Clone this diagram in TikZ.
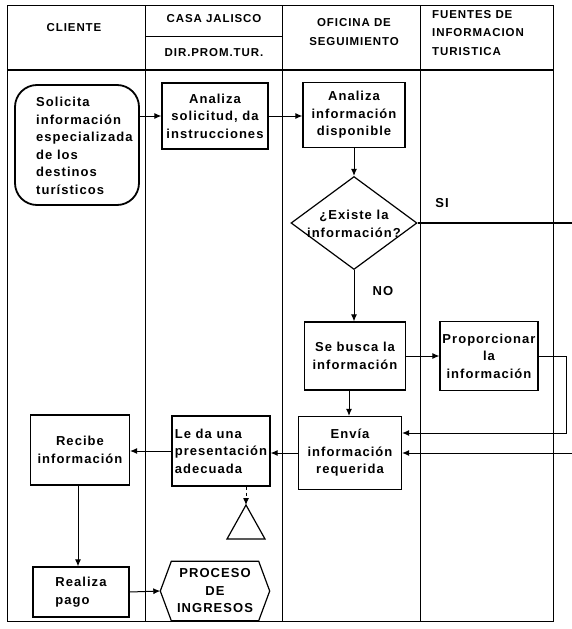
\documentclass[tikz,border=0pt]{standalone}
\usepackage{fontspec}
\setmainfont{Liberation Sans}
\newfontfamily\lblfont[LetterSpace=8]{Liberation Sans}
\usetikzlibrary{shapes.geometric, arrows.meta}

\tikzset{
	frame/.style={line width=1pt},
	box/.style={draw, line width=1.2pt, inner sep=2pt, align=center,
		font=\lblfont\bfseries\fontsize{13}{17.5}\selectfont},
	txt/.style={inner sep=0pt, align=center,
		font=\lblfont\bfseries\fontsize{13}{17.5}\selectfont},
	head/.style={inner sep=0pt, align=center,
		font=\lblfont\bfseries\fontsize{11.5}{18.5}\selectfont},
	arr/.style={-{Latex[length=7pt,width=6pt]}, line width=1pt}
}

\begin{document}
\begin{tikzpicture}[x=1pt,y=-1pt]
	\useasboundingbox (0,0) rectangle (572,629);

	% lanes
	\draw[frame] (7,5) rectangle (553,621);
	\draw[line width=1.4pt] (7,70) -- (553,70);
	\draw[frame] (145,5) -- (145,621);
	\draw[frame] (282,5) -- (282,621);
	\draw[frame] (420,5) -- (420,621);
	\draw[frame] (145,36) -- (282,36);

	\node[head] (hcliente) at (74,28) {CLIENTE};
	\node[head] (hcasa) at (214,19) {CASA JALISCO};
	\node[head] (hdir) at (214,53) {DIR.PROM.TUR.};
	\node[head] (hoficina) at (354,32) {OFICINA DE\\SEGUIMIENTO};
	\node[head, align=left, anchor=west] (hfuentes) at (432,33) {FUENTES DE\\INFORMACION\\TURISTICA};

	% cliente
	\node[draw, rounded corners=22pt, line width=1.8pt,
		minimum width=124pt, minimum height=120pt] (solicita) at (77,145) {};
	\node[txt, align=left, anchor=west] (solicitatxt) at (36,146)
		{Solicita\\información\\especializada\\de los\\destinos\\turísticos};
	\node[box, minimum width=99pt, minimum height=70pt] (recibe) at (80,450) {Recibe\\información};
	\node[box, align=left, minimum width=96pt, minimum height=50pt] (realiza) at (81,592) {Realiza\\pago};

	% casa jalisco
	\node[box, minimum width=106pt, minimum height=66pt] (solic) at (215,116) {Analiza\\solicitud, da\\instrucciones};
	\node[box, align=left, minimum width=98pt, minimum height=70pt] (leda) at (221,451) {Le da una\\presentación\\adecuada};
	\node[txt, minimum width=109pt, minimum height=59pt] (ingresos) at (215,591) {PROCESO\\DE\\INGRESOS};
	\draw[line width=1.2pt] (ingresos.west) -- ([xshift=11pt]ingresos.north west)
		-- ([xshift=-11pt]ingresos.north east) -- (ingresos.east)
		-- ([xshift=-11pt]ingresos.south east) -- ([xshift=11pt]ingresos.south west) -- cycle;
	\coordinate (tri) at (246,505);
	\draw[line width=1.2pt] (tri) -- (227,539) -- (265,539) -- cycle;

	% oficina
	\node[box, minimum width=102pt, minimum height=65pt] (dispon) at (354,115) {Analiza\\información\\disponible};
	\node[diamond, draw, line width=1.2pt, inner sep=0pt,
		minimum width=126pt, minimum height=93pt] (existe) at (354,223) {};
	\node[txt] (existetxt) at (354,224) {¿Existe la\\información?};
	\node[box, minimum width=101pt, minimum height=68pt] (busca) at (355,356) {Se busca la\\información};
	\node[box, minimum width=103pt, minimum height=73pt] (envia) at (350,453) {Envía\\información\\requerida};

	% fuentes
	\node[box, minimum width=98pt, minimum height=69pt] (proporc) at (489,356) {Proporcionar\\la\\información};
	\coordinate (siend) at (572,223);
	\coordinate (fuente) at (572,453);

	\node[txt] (si) at (442,203) {SI};
	\node[txt] (no) at (383,291) {NO};

	% flujo
	\draw[arr] (solic.west -| solicita.east) -- (solic.west);
	\draw[arr] (solic.east) -- (dispon.west |- solic.east);
	\draw[arr] (dispon.south) -- (existe.north);
	\draw[line width=1.2pt] (existe.east) -- (siend);
	\draw[arr] (existe.south) -- (busca.north -| existe.south);
	\draw[arr] (busca.east) -- (proporc.west);
	\draw[arr] (busca.south -| 349,0) -- (envia.north -| 349,0);
	\draw[arr] (proporc.east) -- ++(28,0) |- ([yshift=20pt]envia.east);
	\draw[arr] (fuente) -- (envia.east);
	\draw[arr] (envia.west) -- (leda.east |- envia.west);
	\draw[arr] (leda.west) -- (recibe.east |- leda.west);
	\draw[arr, dashed] (leda.south -| tri) -- (tri);
	\draw[arr] (recibe.south -| 78,0) -- (realiza.north -| 78,0);
	\draw[arr] (realiza.east) -- (ingresos.west);
\end{tikzpicture}
\end{document}
